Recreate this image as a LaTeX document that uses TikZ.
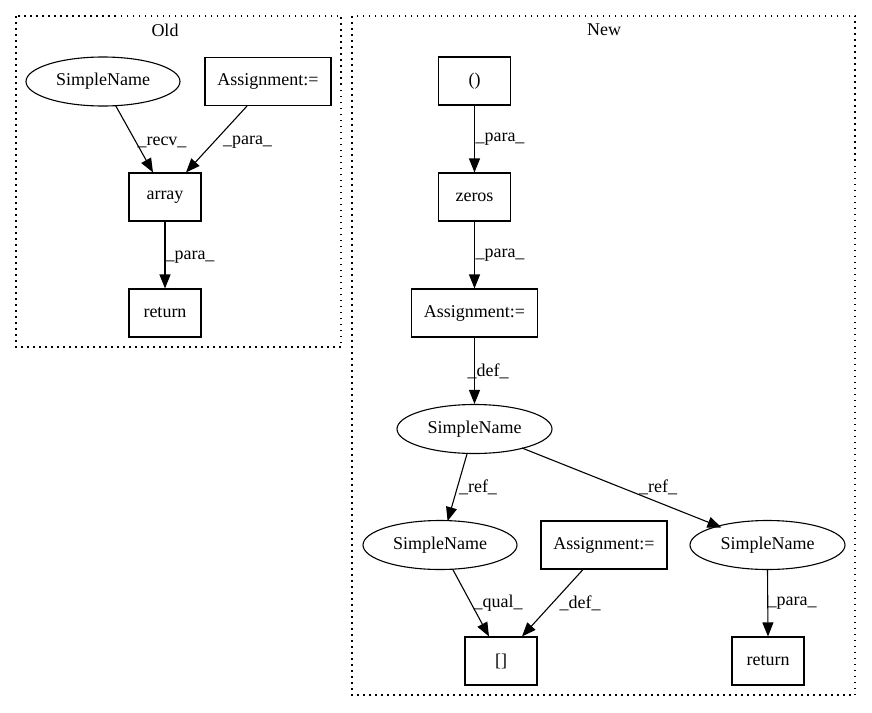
\documentclass[tikz,border=0pt]{standalone}
\usepackage{fontspec}
\setmainfont{Liberation Serif}
\usetikzlibrary{arrows.meta,shapes.geometric,calc}
\begin{document}
\begin{tikzpicture}[x=1pt,y=-1pt,
  font=\fontsize{18}{21}\selectfont,
  every node/.style={inner sep=0pt},
  boxnode/.style={draw,line width=1.1pt,rectangle,minimum width=72pt,minimum height=48pt},
  widebox/.style={boxnode,minimum width=126pt},
  ellnode/.style={draw,line width=1.1pt,ellipse,minimum width=154pt,minimum height=49pt},
  cluster/.style={draw,line width=1.3pt,dash pattern=on 1.5pt off 4.5pt},
  edge/.style={line width=1.1pt,-{Triangle[length=14pt,width=11pt]}},
  elabel/.style={anchor=center}
]
\useasboundingbox (0,0) rectangle (872,712);
% clusters
\draw[cluster] (16,16) rectangle (341,347);
\node (oldlbl) at (165,30) {Old};
\draw[cluster] (352,16) rectangle (855,695);
\node (newlbl) at (604,30) {New};

% Old nodes
\node[ellnode] (sn1) at (103,81.5) {SimpleName};
\node[widebox] (asg1) at (268,81.5) {Assignment:=};
\node[boxnode] (arr) at (165,197) {array};
\node[boxnode] (ret1) at (165,313) {return};

\draw[edge] ($(sn1.center)+(12.6,24.1)$) -- ($(arr.north)+(-12,0)$);
\node[elabel] (l1) at (162,142) {\_recv\_};
\draw[edge] ($(asg1.south)+(-21,0)$) -- ($(arr.north)+(21,0)$);
\node[elabel] (l2) at (247.5,142) {\_para\_};
\draw[edge] (arr.south) -- (ret1.north);
\node[elabel] (l3) at (190,257) {\_para\_};

% New nodes
\node[boxnode] (par) at (474.5,81) {()};
\node[boxnode] (zer) at (474.5,197) {zeros};
\node[widebox] (asg2) at (474.5,313) {Assignment:=};
\node[ellnode,minimum width=155pt] (snm) at (474.5,429) {SimpleName};
\node[ellnode] (snl) at (440,545) {SimpleName};
\node[widebox] (asg3) at (604,545) {Assignment:=};
\node[ellnode,minimum width=155pt] (snr) at (767.5,545) {SimpleName};
\node[boxnode] (brk) at (501,661) {[]};
\node[boxnode] (ret2) at (768,661) {return};

\draw[edge] (par.south) -- (zer.north);
\node[elabel] (l4) at (500,139) {\_para\_};
\draw[edge] (zer.south) -- (asg2.north);
\node[elabel] (l5) at (500,255) {\_para\_};
\draw[edge] (asg2.south) -- (snm.north);
\node[elabel] (l6) at (488,371) {\_def\_};
\draw[edge] ($(snm.center)+(-7.2,23.9)$) -- ($(snl.center)+(7.6,-23.9)$);
\node[elabel] (l7) at (478,487) {\_ref\_};
\draw[edge] ($(snm.center)+(47.5,19)$) -- ($(snr.center)+(-46,-17.5)$);
\node[elabel] (l8) at (658,487) {\_ref\_};
\draw[edge] ($(snl.center)+(12.6,24.1)$) -- ($(brk.north)+(-12,0)$);
\node[elabel] (l9) at (498,603) {\_qual\_};
\draw[edge] ($(asg3.south)+(-21,0)$) -- ($(brk.north)+(21,0)$);
\node[elabel] (l10) at (580,603) {\_def\_};
\draw[edge] (snr.south) -- (ret2.north);
\node[elabel] (l11) at (792,603) {\_para\_};
\end{tikzpicture}
\end{document}
